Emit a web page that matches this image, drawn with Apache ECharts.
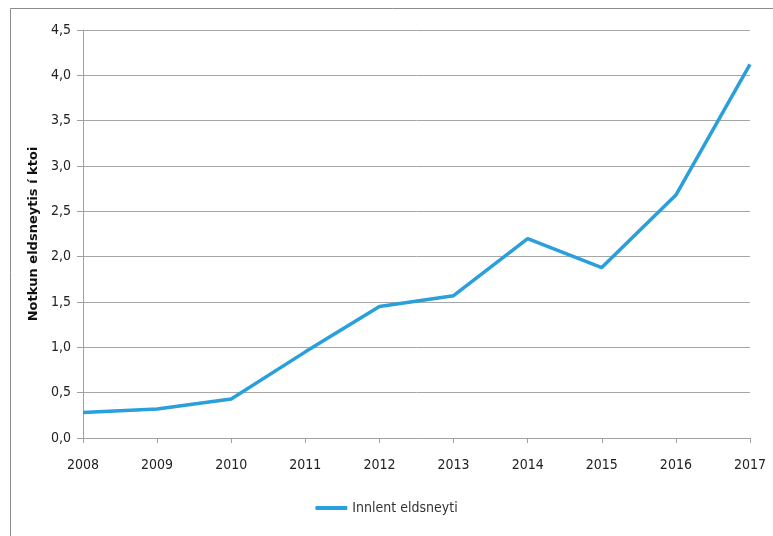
<!DOCTYPE html>
<html>
<head>
<meta charset="utf-8">
<script src="https://cdn.jsdelivr.net/npm/echarts@6/dist/echarts.min.js"></script>
<style>
  html, body { margin: 0; padding: 0; background: #fff; }
  #chart { width: 773px; height: 536px; }
</style>
</head>
<body>
<div id="chart"></div>
<script>
// Years on the horizontal axis
const years = ['2008', '2009', '2010', '2011', '2012', '2013', '2014', '2015', '2016', '2017'];
// Domestic fuel use, ktoe
const innlentValues = [0.28, 0.32, 0.43, 0.95, 1.45, 1.57, 2.20, 1.88, 2.68, 4.12];
const seriesName = 'Innlent eldsneyti';
const yAxisTitle = 'Notkun eldsneytis í ktoi';

const font = "'Liberation Sans Narrow', 'DejaVu Sans Condensed', 'Open Sans', sans-serif";
const chart = echarts.init(document.getElementById('chart'));

chart.setOption({
  animation: false,
  backgroundColor: '#fff',
  graphic: [{
    type: 'rect',
    shape: { x: 10.5, y: 8.5, width: 800, height: 600 },
    style: { fill: 'none', stroke: '#8c8c8c', lineWidth: 1 },
    silent: true
  }],
  grid: { left: 83, right: 23, top: 30, bottom: 98 },
  legend: {
    bottom: 16,
    left: 'center',
    data: [seriesName],
    icon: 'roundRect',
    itemWidth: 32,
    itemHeight: 4,
    itemGap: 2,
    textStyle: { fontFamily: font, fontSize: 14, color: '#333' }
  },
  xAxis: {
    type: 'category',
    data: years,
    boundaryGap: false,
    axisLine: { lineStyle: { color: '#a0a0a0', width: 1 } },
    axisTick: { show: true, length: 5, lineStyle: { color: '#a0a0a0' } },
    axisLabel: { fontFamily: font, fontSize: 14, color: '#222', margin: 20 },
    splitLine: { show: false }
  },
  yAxis: {
    type: 'value',
    min: 0,
    max: 4.5,
    interval: 0.5,
    name: yAxisTitle,
    nameLocation: 'middle',
    nameGap: 43,
    nameTextStyle: { fontFamily: "'DejaVu Sans', sans-serif", fontWeight: 'bold', fontSize: 13, color: '#111' },
    axisLine: { show: true, lineStyle: { color: '#a0a0a0', width: 1 } },
    axisTick: { show: true, length: 6, lineStyle: { color: '#a0a0a0' } },
    axisLabel: {
      fontFamily: font, fontSize: 14, color: '#222', margin: 12,
      formatter: v => v.toFixed(1).replace('.', ',')
    },
    splitLine: { lineStyle: { color: '#a6a6a6', width: 1 } }
  },
  series: [{
    name: seriesName,
    type: 'line',
    data: innlentValues,
    symbol: 'none',
    lineStyle: { color: '#299fdb', width: 3.5 },
    itemStyle: { color: '#299fdb' }
  }]
});
</script>
</body>
</html>
